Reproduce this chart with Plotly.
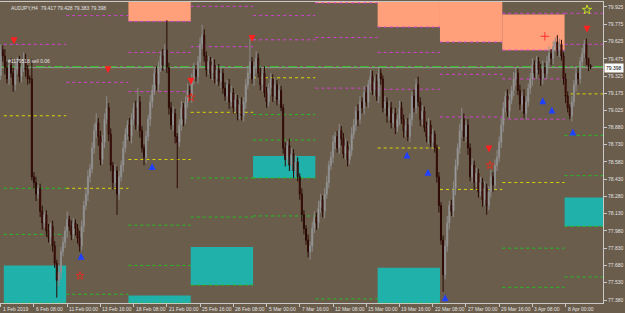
import plotly.graph_objects as go

# ---------------- data ----------------
first_open = 79.33
closes = [
 79.55,79.50,79.40,79.30,79.42,79.35,79.25,79.38,79.45,79.32,
 79.40,79.47,79.38,79.30,79.30,78.45,78.40,78.30,78.35,78.15,
 78.05,78.12,77.98,77.92,78.02,77.85,77.70,77.55,77.62,77.80,
 77.88,77.98,78.08,78.02,77.95,78.05,78.00,77.92,77.85,78.02,
 78.20,78.30,78.45,78.52,78.70,78.85,78.92,78.80,78.60,78.75,
 78.95,79.05,78.82,78.55,78.40,78.50,78.30,78.45,78.55,78.70,
 78.82,78.90,78.80,78.95,79.05,78.90,79.10,78.85,78.70,78.62,
 78.80,78.95,79.10,79.20,79.35,79.25,79.40,79.50,79.42,79.55,
 79.40,79.05,78.90,79.00,78.80,78.75,78.90,79.05,78.95,79.10,
 79.20,79.15,79.30,79.38,79.32,79.45,79.60,79.68,79.50,79.38,
 79.45,79.35,79.42,79.30,79.38,79.28,79.35,79.22,79.15,79.25,
 79.10,79.18,79.05,79.12,79.00,79.08,78.98,79.10,79.25,79.35,
 79.45,79.30,79.40,79.48,79.35,79.25,79.35,79.18,79.10,79.22,
 79.30,79.15,79.25,79.12,79.20,79.05,78.70,78.60,78.72,78.55,
 78.65,78.50,78.58,78.45,78.30,78.12,78.00,77.90,77.80,77.85,
 78.00,78.10,78.05,78.18,78.25,78.15,78.30,78.40,78.55,78.62,
 78.75,78.80,78.70,78.85,78.78,78.65,78.72,78.60,78.68,78.82,
 78.90,79.02,78.95,79.10,79.05,79.18,79.10,79.25,79.32,79.20,
 79.28,79.15,79.35,79.30,79.05,79.10,78.98,79.05,78.92,79.00,
 78.88,78.95,79.05,78.95,78.85,78.90,78.80,78.95,79.15,79.05,
 79.25,79.10,78.95,79.02,78.88,78.80,78.90,78.75,78.82,78.70,
 78.45,78.20,77.90,77.60,77.85,78.05,78.20,78.15,78.35,78.55,
 78.70,78.85,78.95,78.80,78.90,78.70,78.45,78.55,78.40,78.48,
 78.32,78.40,78.25,78.35,78.20,78.32,78.45,78.38,78.55,78.62,
 78.75,78.90,79.05,79.15,79.02,79.12,79.20,79.30,79.35,79.20,
 79.08,79.15,79.00,79.10,79.22,79.30,79.42,79.35,79.45,79.38,
 79.30,79.40,79.35,79.45,79.52,79.48,79.58,79.62,79.55,79.60,
 79.50,79.30,79.15,79.05,78.98,79.10,79.25,79.35,79.30,79.45,
 79.52,79.60,79.48,79.417,79.398,
]
# wick lengths in 0.01 JPY
upper_wick = [
 5,4,6,5,4,6,5,7,4,5, 4,6,5,4,3,17,4,5,3,4, 5,3,4,6,3,5,4,3,6,4,
 5,4,7,3,5,4,3,4,6,5, 4,5,6,4,5,6,8,4,5,6, 5,10,4,5,3,6,4,5,4,6,
 5,4,6,5,4,6,12,5,4,3, 5,4,6,5,4,6,5,4,6,5, 26,4,5,6,4,3,5,6,4,5,
 6,4,5,6,4,5,6,9,5,4, 5,4,6,5,4,5,6,4,5,4, 5,6,4,5,4,5,6,4,5,6,
 20,4,5,6,4,5,4,6,5,4, 5,4,6,4,5,4,3,5,4,6, 5,4,6,4,3,5,4,3,5,4,
 6,5,4,6,5,4,5,6,4,5, 6,4,5,6,4,5,6,4,5,6, 5,4,6,5,4,6,5,4,6,5,
 4,6,5,4,3,5,4,6,5,4, 5,4,6,5,4,5,6,5,4,6, 5,7,4,5,4,5,6,4,5,3,
 3,4,3,4,5,6,4,5,6,5, 4,6,10,5,4,5,4,6,4,5, 4,5,4,6,4,5,6,4,5,6,
 5,6,5,4,6,5,4,6,5,4, 5,4,6,5,4,5,6,4,5,4, 5,6,4,5,6,4,5,4,6,5,
 4,3,5,4,3,5,4,6,5,4, 5,4,5,0,1.1,
]
lower_wick = [
 4,5,6,4,5,4,6,5,4,5, 5,4,6,5,4,3,5,6,4,5, 6,4,5,4,6,5,4,15,5,6,
 4,5,6,4,5,4,6,5,5,4, 5,4,6,5,4,5,6,8,5,4, 5,4,6,5,6,4,18,5,4,6,
 4,5,4,6,5,4,5,6,4,7, 5,4,6,5,4,5,6,4,5,4, 5,6,4,5,6,40,4,5,6,4,
 5,4,6,5,4,6,5,4,5,6, 4,5,6,4,5,4,6,5,4,5, 6,4,5,4,6,5,4,5,6,4,
 5,4,6,5,4,5,6,4,5,4, 6,5,4,5,4,3,5,6,4,5, 4,6,5,4,5,6,5,4,5,7,
 5,4,6,5,4,5,6,4,5,4, 5,6,4,5,6,4,5,6,4,5, 4,5,6,4,5,6,4,5,6,4,
 5,4,6,5,4,5,6,4,5,4, 6,4,5,4,6,5,4,5,6,4, 5,4,6,5,4,5,6,4,5,4,
 5,6,4,15,4,5,6,4,5,6, 4,5,6,4,5,6,4,5,6,4, 5,4,6,5,8,4,5,6,4,5,
 4,5,6,4,5,6,4,5,6,4, 5,6,4,5,4,5,6,4,5,4, 6,5,4,5,4,6,5,4,5,6,
 4,5,6,4,3,5,4,6,5,4, 5,4,6,5,1.5,
]

tick_labels = ["1 Feb 2019","6 Feb 08:00","11 Feb 00:00","13 Feb 16:00","18 Feb 08:00",
               "21 Feb 00:00","25 Feb 16:00","28 Feb 08:00","5 Mar 00:00","7 Mar 16:00",
               "12 Mar 08:00","15 Mar 00:00","19 Mar 16:00","22 Mar 08:00","27 Mar 00:00",
               "29 Mar 16:00","3 Apr 08:00","8 Apr 00:00"]
tick_bars = [0,16,32,48,64,80,96,112,128,144,160,176,192,208,224,240,256,272]
price_ticks = [79.925,79.775,79.625,79.475,79.325,79.175,79.025,78.880,78.730,
               78.580,78.430,78.280,78.130,77.980,77.830,77.680,77.530,77.380]

y_lo, y_hi = 77.354, 79.968
x_lo, x_hi = -0.34, 290.0

# weekly zone boundaries (bar index)
week_start = [1.5,31.5,61.5,91.5,121.5,151.5,181.5,211.5,241.5,271.5]
week_end   = [31.5,61.5,91.5,121.5,151.5,181.5,211.5,241.5,271.5,290.0]

magenta_levels = {0:[79.60],1:[79.85,79.27],2:[79.53,79.19],3:[79.93,79.58],
                  4:[79.85,79.64],5:[79.66,79.22],6:[79.53,79.21],7:[79.34,78.97],
                  8:[79.87,79.30,78.95],9:[79.87,79.60]}
yellow_levels = {0:[78.98],1:[78.35],2:[78.60],3:[79.01],4:[79.31],
                 6:[78.70],7:[78.34],8:[78.40],9:[79.17]}
green_levels = {0:[78.35,77.95],1:[77.43],2:[78.03,77.68],3:[78.44,78.10],
                4:[78.99,78.77,78.11],5:[77.39],8:[77.83,77.49],9:[78.81,78.46,77.58]}
supply_zones = {2:(79.80,y_hi),5:(79.96,y_hi),6:(79.75,y_hi),7:(79.62,y_hi),8:(79.55,79.86)}
demand_zones = {0:(y_lo,77.68),2:(y_lo,77.42),3:(77.51,77.84),4:(78.44,78.63),
                6:(y_lo,77.66),9:(78.02,78.27)}

sell_arrows_x = [6.4,51.7,91.6,121.0,235.1,282.3]
sell_arrows_y = [79.60,79.35,79.25,79.62,78.66,79.70]
buy_arrows_x = [38.7,72.9,195.6,205.7,214.0,261.0,265.4,275.5]
buy_arrows_y = [77.79,78.57,78.67,78.52,77.43,79.14,79.06,78.87]
red_star_x = [38.2,91.6,235.6]
red_star_y = [77.59,79.14,78.55]

order_price = 79.406
bid_price = 79.398

# ---------------- figure ----------------
opens = [first_open] + closes[:-1]
highs = [max(o, c) + w / 100 for o, c, w in zip(opens, closes, upper_wick)]
lows = [min(o, c) - w / 100 for o, c, w in zip(opens, closes, lower_wick)]
idx = list(range(len(closes)))

BG = "#6B5D4C"
TXT = "#E2E2E2"
MAG = "#D040D0"
YEL = "#D8D800"
GRN = "#22C022"
FONT = "Liberation Sans"
FS = 5

shapes = []
for w, (a, b) in supply_zones.items():
    shapes.append(dict(type="rect", xref="x", yref="y", x0=week_start[w], x1=week_end[w],
                       y0=a, y1=b, fillcolor="#FFA07A", line=dict(width=0), layer="below"))
    shapes.append(dict(type="line", xref="x", yref="y", x0=week_start[w], x1=week_end[w],
                       y0=a, y1=a, line=dict(color=MAG, width=1, dash="dot"), layer="below"))
for w, (a, b) in demand_zones.items():
    shapes.append(dict(type="rect", xref="x", yref="y", x0=week_start[w], x1=week_end[w],
                       y0=a, y1=b, fillcolor="#20B2AA", line=dict(width=0), layer="below"))
    shapes.append(dict(type="line", xref="x", yref="y", x0=week_start[w], x1=week_end[w],
                       y0=a, y1=a, line=dict(color=GRN, width=1, dash="dot"), layer="below"))
for levels, col in ((magenta_levels, MAG), (yellow_levels, YEL), (green_levels, GRN)):
    for w, vals in levels.items():
        for v in vals:
            shapes.append(dict(type="line", xref="x", yref="y", x0=week_start[w], x1=week_end[w],
                               y0=v, y1=v, line=dict(color=col, width=1, dash="dot"), layer="below"))
shapes.append(dict(type="line", xref="paper", yref="y", x0=0, x1=1, y0=bid_price, y1=bid_price,
                   line=dict(color="#9A9A9A", width=1), layer="below"))
shapes.append(dict(type="line", xref="paper", yref="y", x0=0, x1=1, y0=order_price, y1=order_price,
                   line=dict(color="#32CD32", width=1, dash="dashdot"), layer="below"))

fig = go.Figure()
fig.add_trace(go.Candlestick(
    x=idx, open=opens, high=highs, low=lows, close=closes,
    increasing=dict(line=dict(color="#8C8C8C", width=1), fillcolor="#C4C4C4"),
    decreasing=dict(line=dict(color="#2A0A05", width=1), fillcolor="#8B1010"),
    whiskerwidth=0, showlegend=False, hoverinfo="skip"))
fig.add_trace(go.Scatter(x=sell_arrows_x, y=sell_arrows_y, mode="markers",
                         marker=dict(symbol="arrow-down", size=7, color="#FF2020"),
                         showlegend=False, hoverinfo="skip"))
fig.add_trace(go.Scatter(x=buy_arrows_x, y=buy_arrows_y, mode="markers",
                         marker=dict(symbol="arrow-up", size=7, color="#2040FF"),
                         showlegend=False, hoverinfo="skip"))
fig.add_trace(go.Scatter(x=red_star_x, y=red_star_y, mode="markers",
                         marker=dict(symbol="star-open", size=6, color="#E03020"),
                         showlegend=False, hoverinfo="skip"))
fig.add_trace(go.Scatter(x=[262.0], y=[79.67], mode="markers",
                         marker=dict(symbol="cross-thin-open", size=6, color="#FF3030", line=dict(width=1, color="#FF3030")),
                         showlegend=False, hoverinfo="skip"))
fig.add_trace(go.Scatter(x=[282.3], y=[79.90], mode="markers",
                         marker=dict(symbol="star-open", size=7, color="#C0E020"),
                         showlegend=False, hoverinfo="skip"))

annotations = []
for b, t in zip(tick_bars, tick_labels):
    annotations.append(dict(x=b, y=0, xref="x", yref="paper", text=t, showarrow=False,
                            xanchor="left", yanchor="top", xshift=0, yshift=-1,
                            font=dict(size=FS, color=TXT, family=FONT)))
annotations.append(dict(x=0, y=1, xref="paper", yref="paper", xshift=9, yshift=-1,
                        text="AUDJPY,H4  79.417 79.428 79.383 79.398", showarrow=False,
                        xanchor="left", yanchor="top", font=dict(size=FS, color=TXT, family=FONT)))
annotations.append(dict(x=0, y=order_price, xref="paper", yref="y", xshift=6, yshift=1,
                        text="#1179518 sell 0.06", showarrow=False,
                        xanchor="left", yanchor="bottom", font=dict(size=FS, color=TXT, family=FONT)))
annotations.append(dict(x=1, y=bid_price, xref="paper", yref="y", xshift=1,
                        text="79.398", showarrow=False, bgcolor="#FFFFFF",
                        xanchor="left", yanchor="middle", borderpad=1,
                        font=dict(size=FS, color="#000000", family=FONT)))

fig.update_layout(
    width=625, height=313, margin=dict(l=0, r=22, t=2, b=10),
    paper_bgcolor=BG, plot_bgcolor=BG,
    shapes=shapes, annotations=annotations,
    xaxis=dict(range=[x_lo, x_hi], showgrid=False, zeroline=False, rangeslider=dict(visible=False),
               tickvals=tick_bars, ticks="outside", ticklen=3, tickcolor="#C8C8C8",
               showticklabels=False, showline=True, linecolor="#C8C8C8", mirror=True),
    yaxis=dict(range=[y_lo, y_hi], side="right", showgrid=False, zeroline=False,
               tickvals=price_ticks, ticktext=[f"{v:.3f}" for v in price_ticks],
               ticks="outside", ticklen=3, tickcolor="#C8C8C8",
               tickfont=dict(size=FS, color=TXT, family=FONT),
               showline=True, linecolor="#C8C8C8", mirror=True),
)
fig.write_html("out.html")
